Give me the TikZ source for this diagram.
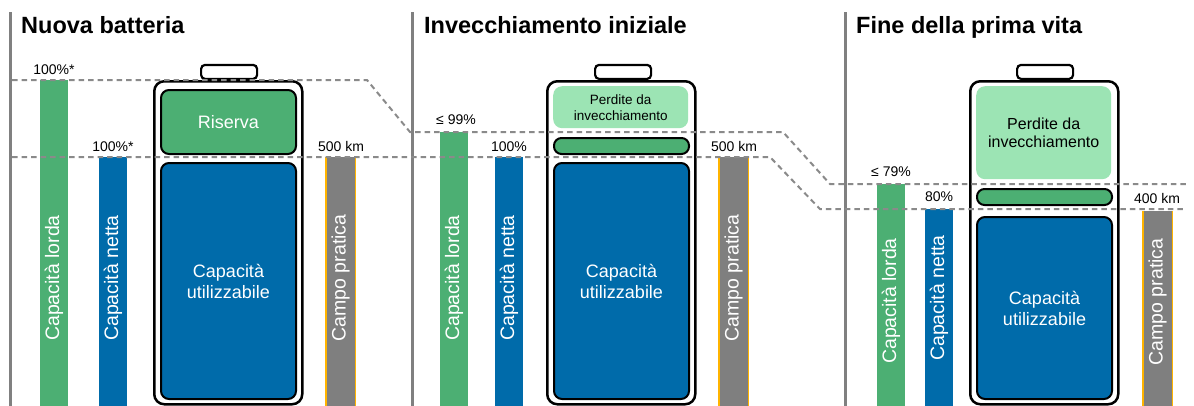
\documentclass[tikz,border=0pt]{standalone}
\usepackage{fontspec}
\setmainfont{Liberation Sans}
\definecolor{bgreen}{HTML}{4CAF73}
\definecolor{bblue}{HTML}{006BAA}
\definecolor{lgreen}{HTML}{9CE4B4}
\definecolor{bargray}{HTML}{7F7F7F}
\definecolor{edgeyel}{HTML}{FFB400}
\definecolor{divgray}{HTML}{808080}
\definecolor{guidegray}{HTML}{8A8A8A}
\begin{document}
\begin{tikzpicture}[x=1pt,y=-1pt,
  divider/.style={draw=divgray, line width=3pt},
  guide/.style={draw=guidegray, line width=2pt, dash pattern=on 5.5pt off 4pt},
  title/.style={font=\bfseries\fontsize{23.5}{27}\selectfont, anchor=base west, inner sep=0pt},
  lbl/.style={font=\fontsize{14}{16}\selectfont, anchor=base, inner sep=0pt},
  bar/.style={anchor=north west, inner sep=0pt, minimum width=28pt, draw=none},
  greenbar/.style={bar, fill=bgreen},
  bluebar/.style={bar, fill=bblue},
  rangebar/.style={bar, fill=bargray, minimum width=29pt},
  vtext/.style={rotate=90, text=white, font=\fontsize{19.5}{22}\selectfont, inner sep=0pt},
  batt/.style={draw=black, fill=white, line width=2.5pt, rounded corners=10pt, anchor=north west, inner sep=0pt, minimum width=148pt, minimum height=323pt},
  battcap/.style={draw=black, fill=white, line width=2.2pt, rounded corners=4pt, anchor=south west, inner sep=0pt, minimum width=56pt, minimum height=14pt},
  block/.style={draw=black, line width=2pt, rounded corners=8pt, anchor=north west, inner sep=0pt, minimum width=135pt, text=white, align=center, font=\fontsize{18}{21}\selectfont},
  reserve/.style={block, fill=bgreen},
  usable/.style={block, fill=bblue},
  loss/.style={draw=none, fill=lgreen, rounded corners=9pt, anchor=north west, inner sep=0pt, minimum width=135pt, align=center, text=black},
  thinbar/.style={draw=black, line width=2pt, fill=bgreen, rounded corners=7.5pt, anchor=north west, inner sep=0pt, minimum width=135pt, minimum height=16pt}
]
\useasboundingbox (0,0) rectangle (1194,405);

% dividers
\draw[divider] (10,12) -- (10,406);
\draw[divider] (412,12) -- (412,406);
\draw[divider] (845,12) -- (845,406);

% titles
\node[title] (t1) at (21,33) {Nuova batteria};
\node[title] (t2) at (424,33) {Invecchiamento iniziale};
\node[title] (t3) at (856,33) {Fine della prima vita};

% ===== Panel 1 =====
\node[greenbar, minimum height=326pt] (g1) at (40,80) {};
\node[bluebar, minimum height=249pt] (n1) at (99,157) {};
\node[rangebar, minimum height=249pt] (r1) at (326,157) {};
\draw[edgeyel, line width=1.5pt] (r1.north west) -- (r1.south west) (r1.north east) -- (r1.south east);
\node[vtext] (g1t) at (54,278) {Capacità lorda};
\node[vtext] (n1t) at (113,278) {Capacità netta};
\node[vtext] (r1t) at (340.5,278) {Campo pratica};
\node[lbl] (g1l) at (54,74) {100\%*};
\node[lbl] (n1l) at (113,151) {100\%*};
\node[lbl] (r1l) at (341,151) {500 km};
\node[battcap] (c1) at (200,80) {};
\node[batt] (b1) at (153,80) {};
\node[reserve, minimum height=64pt] (res1) at (160,89) {Riserva};
\node[usable, minimum height=236pt] (u1) at (160,162) {Capacità\\utilizzabile};

% ===== Panel 2 =====
\node[greenbar, minimum height=274pt] (g2) at (440,132) {};
\node[bluebar, minimum height=249pt] (n2) at (495,157) {};
\node[rangebar, minimum height=249pt] (r2) at (719,157) {};
\draw[edgeyel, line width=1.5pt] (r2.north west) -- (r2.south west) (r2.north east) -- (r2.south east);
\node[vtext] (g2t) at (454,278) {Capacità lorda};
\node[vtext] (n2t) at (509,278) {Capacità netta};
\node[vtext] (r2t) at (733.5,278) {Campo pratica};
\node[lbl] (g2l) at (456,124) {≤ 99\%};
\node[lbl] (n2l) at (509,151) {100\%};
\node[lbl] (r2l) at (734,151) {500 km};
\node[battcap] (c2) at (594,80) {};
\node[batt] (b2) at (546,80) {};
\node[loss, minimum height=42pt, font=\fontsize{13.5}{16}\selectfont] (l2) at (553,86) {Perdite da\\invecchiamento};
\node[thinbar] (s2) at (553,137) {};
\node[usable, minimum height=236pt] (u2) at (553,162) {Capacità\\utilizzabile};

% ===== Panel 3 =====
\node[greenbar, minimum height=222pt] (g3) at (877,184) {};
\node[bluebar, minimum height=197pt] (n3) at (925,209) {};
\node[rangebar, minimum height=195pt] (r3) at (1143,211) {};
\draw[edgeyel, line width=1.5pt] (r3.north west) -- (r3.south west) (r3.north east) -- (r3.south east);
\node[vtext] (g3t) at (891,301) {Capacità lorda};
\node[vtext] (n3t) at (939,298) {Capacità netta};
\node[vtext] (r3t) at (1157.5,302) {Campo pratica};
\node[lbl] (g3l) at (891,176) {≤ 79\%};
\node[lbl] (n3l) at (939,201) {80\%};
\node[lbl] (r3l) at (1157,203) {400 km};
\node[battcap] (c3) at (1016,80) {};
\node[batt] (b3) at (969,80) {};
\node[loss, minimum height=93pt, font=\fontsize{16}{18}\selectfont] (l3) at (976,86) {Perdite da\\invecchiamento};
\node[thinbar] (s3) at (976,188) {};
\node[usable, minimum height=182pt] (u3) at (976,216) {Capacità\\utilizzabile};

% guide lines
\draw[guide] (12,80) -- (367,80) -- (410,132) -- (783,132) -- (830,184) -- (1186,184);
\draw[guide] (12,157) -- (770,157) -- (820,209) -- (1186,209);
\end{tikzpicture}
\end{document}
